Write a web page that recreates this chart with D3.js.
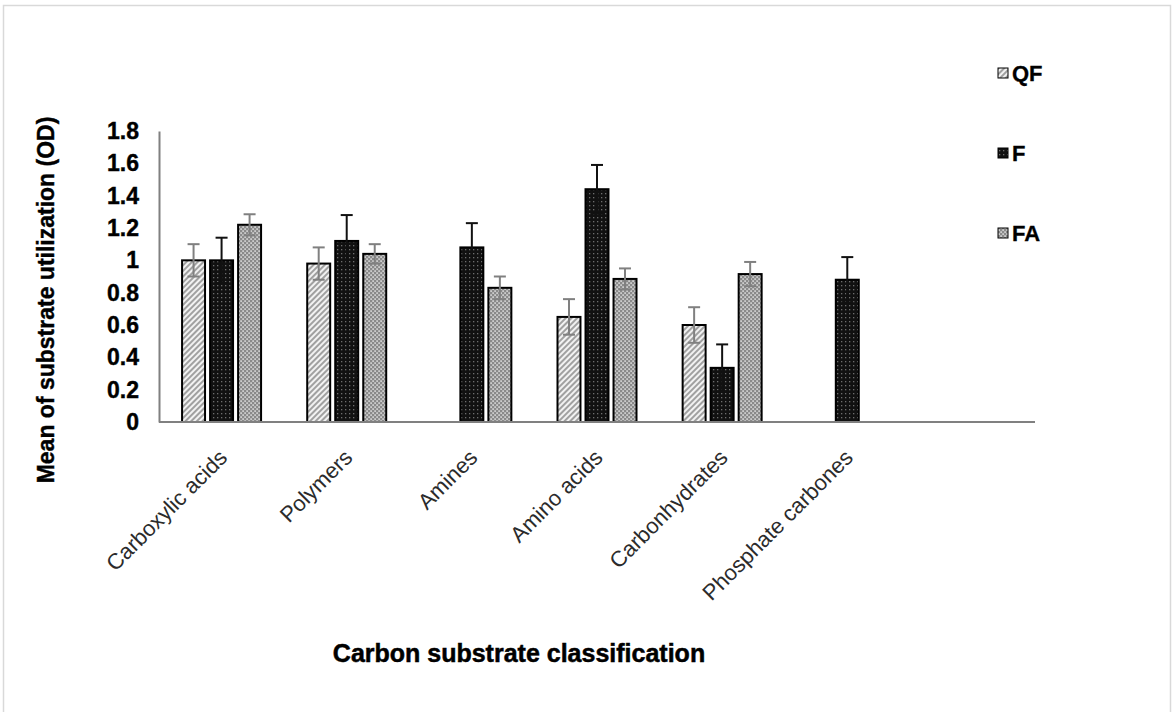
<!DOCTYPE html>
<html>
<head>
<meta charset="utf-8">
<script src="https://cdn.jsdelivr.net/npm/d3@7"></script>
<style>
  body { margin: 0; background: #fff; }
  text { font-family: "Liberation Sans", Arial, sans-serif; }
</style>
</head>
<body>
<svg width="1173" height="712"></svg>
<script>
var categories = ['Carboxylic acids', 'Polymers', 'Amines', 'Amino acids', 'Carbonhydrates', 'Phosphate carbones']
var series = ['QF', 'F', 'FA']
// means, null = no bar
var qfValues = [1.00, 0.98, null, 0.65, 0.60, null]
var fValues = [1.00, 1.12, 1.08, 1.44, 0.335, 0.88]
var faValues = [1.22, 1.04, 0.83, 0.885, 0.915, null]
// error bar half widths
var qfErr = [0.10, 0.10, null, 0.11, 0.11, null]
var fErr = [0.14, 0.16, 0.15, 0.15, 0.145, 0.14]
var faErr = [0.065, 0.06, 0.07, 0.065, 0.075, null]
var yTicks = [0, 0.2, 0.4, 0.6, 0.8, 1, 1.2, 1.4, 1.6, 1.8]

var svg = d3.select('svg');

// frame
svg.append('rect')
    .attr('x', 3.5).attr('y', 5.5)
    .attr('width', 1167).attr('height', 720)
    .attr('fill', 'none')
    .attr('stroke', '#d9d9d9')
    .attr('stroke-width', 1.5);

// patterns
var defs = svg.append('defs');

var pQF = defs.append('pattern')
    .attr('id', 'pat-QF')
    .attr('patternUnits', 'userSpaceOnUse')
    .attr('width', 4).attr('height', 4)
    .attr('patternTransform', 'rotate(45)');
pQF.append('rect').attr('width', 4).attr('height', 4).attr('fill', '#f2f2f2');
pQF.append('line').attr('x1', 1).attr('y1', 0).attr('x2', 1).attr('y2', 4)
    .attr('stroke', '#8c8c8c').attr('stroke-width', 1.6);

var pF = defs.append('pattern')
    .attr('id', 'pat-F')
    .attr('patternUnits', 'userSpaceOnUse')
    .attr('width', 4).attr('height', 4);
pF.append('rect').attr('width', 4).attr('height', 4).attr('fill', '#111');
pF.append('rect').attr('x', 1).attr('y', 1).attr('width', 1.3).attr('height', 1.3).attr('fill', '#6e6e6e');

var pFA = defs.append('pattern')
    .attr('id', 'pat-FA')
    .attr('patternUnits', 'userSpaceOnUse')
    .attr('width', 4).attr('height', 4);
pFA.append('rect').attr('width', 4).attr('height', 4).attr('fill', '#8a8a8a');
pFA.append('rect').attr('x', 0.3).attr('y', 0.3).attr('width', 1.6).attr('height', 1.6).attr('fill', '#dcdcdc');
pFA.append('rect').attr('x', 2.3).attr('y', 2.3).attr('width', 1.6).attr('height', 1.6).attr('fill', '#dcdcdc');

var fills = { QF: 'url(#pat-QF)', F: 'url(#pat-F)', FA: 'url(#pat-FA)' };
var errColor = { QF: '#808080', F: '#111', FA: '#808080' };

// scales
var x0 = d3.scaleBand()
    .domain(categories.concat(['']))
    .range([159, 1035]);

var x1 = d3.scaleBand()
    .domain(series)
    .range([0, 79])
    .paddingInner(0.18);

var groupOffset = (x0.bandwidth() - 79) / 2;

var y = d3.scaleLinear()
    .domain([0, 1.8])
    .range([422, 131]);

var rows = [];
categories.forEach(function (c, i) {
    rows.push({ cat: c, s: 'QF', v: qfValues[i], e: qfErr[i] });
    rows.push({ cat: c, s: 'F', v: fValues[i], e: fErr[i] });
    rows.push({ cat: c, s: 'FA', v: faValues[i], e: faErr[i] });
});
rows = rows.filter(function (d) { return d.v != null; });

function barX(d) { return x0(d.cat) + groupOffset + x1(d.s); }

// bars
svg.append('g').selectAll('rect')
    .data(rows)
    .enter()
    .append('rect')
    .attr('x', barX)
    .attr('y', function (d) { return y(d.v); })
    .attr('width', x1.bandwidth())
    .attr('height', function (d) { return y(0) - y(d.v); })
    .attr('fill', function (d) { return fills[d.s]; })
    .attr('stroke', '#000')
    .attr('stroke-width', 2);

// error bars
var eb = svg.append('g').selectAll('g')
    .data(rows)
    .enter()
    .append('g')
    .attr('stroke', function (d) { return errColor[d.s]; })
    .attr('stroke-width', 2);

eb.append('line')
    .attr('x1', function (d) { return barX(d) + x1.bandwidth() / 2; })
    .attr('x2', function (d) { return barX(d) + x1.bandwidth() / 2; })
    .attr('y1', function (d) { return y(d.v - d.e); })
    .attr('y2', function (d) { return y(d.v + d.e); });
eb.append('line')
    .attr('x1', function (d) { return barX(d) + x1.bandwidth() / 2 - 6; })
    .attr('x2', function (d) { return barX(d) + x1.bandwidth() / 2 + 6; })
    .attr('y1', function (d) { return y(d.v + d.e); })
    .attr('y2', function (d) { return y(d.v + d.e); });
eb.append('line')
    .attr('x1', function (d) { return barX(d) + x1.bandwidth() / 2 - 6; })
    .attr('x2', function (d) { return barX(d) + x1.bandwidth() / 2 + 6; })
    .attr('y1', function (d) { return y(d.v - d.e); })
    .attr('y2', function (d) { return y(d.v - d.e); });

// x axis line
svg.append('line')
    .attr('x1', x0.range()[0]).attr('x2', x0.range()[1])
    .attr('y1', y(0)).attr('y2', y(0))
    .attr('stroke', '#808080').attr('stroke-width', 2);

// y axis
var yAxis = svg.append('g')
    .attr('transform', 'translate(' + x0.range()[0] + ',0)')
    .call(d3.axisLeft(y)
        .tickValues(yTicks)
        .tickSize(0)
        .tickPadding(20)
        .tickFormat(function (d) { return String(+d.toFixed(1)); }));
yAxis.select('.domain').attr('stroke', '#808080').attr('stroke-width', 2);
yAxis.selectAll('text')
    .attr('font-size', 23)
    .attr('font-weight', 'bold')
    .attr('fill', '#000')
    .attr('stroke', '#000')
    .attr('stroke-width', 0.4)
    .style('font-family', '"Liberation Sans", Arial, sans-serif');

// category labels
svg.append('g').selectAll('text')
    .data(categories)
    .enter()
    .append('text')
    .attr('transform', function (d) {
        return 'translate(' + (x0(d) + x0.bandwidth() / 2 + 7) + ',459) rotate(-45)';
    })
    .attr('text-anchor', 'end')
    .attr('font-size', 22)
    .attr('fill', '#2b2b2b')
    .text(function (d) { return d; });

// axis titles
svg.append('text')
    .attr('x', 519).attr('y', 662)
    .attr('text-anchor', 'middle')
    .attr('font-size', 25)
    .attr('font-weight', 'bold')
    .attr('stroke', '#000')
    .attr('stroke-width', 0.5)
    .text('Carbon substrate classification');

svg.append('text')
    .attr('transform', 'translate(54,300) rotate(-90)')
    .attr('text-anchor', 'middle')
    .attr('font-size', 23)
    .attr('font-weight', 'bold')
    .attr('stroke', '#000')
    .attr('stroke-width', 0.4)
    .text('Mean of substrate utilization (OD)');

// legend
var legendY = [73, 153, 233];
var lg = svg.append('g').selectAll('g')
    .data(series)
    .enter()
    .append('g')
    .attr('transform', function (d, i) { return 'translate(998,' + legendY[i] + ')'; });
lg.append('rect')
    .attr('x', 0).attr('y', -5)
    .attr('width', 10).attr('height', 10)
    .attr('fill', function (d) { return fills[d]; })
    .attr('stroke', '#000').attr('stroke-width', 1);
lg.append('text')
    .attr('x', 14).attr('y', 8)
    .attr('font-size', 22)
    .attr('font-weight', 'bold')
    .attr('stroke', '#000')
    .attr('stroke-width', 0.3)
    .text(function (d) { return d; });
</script>
</body>
</html>
